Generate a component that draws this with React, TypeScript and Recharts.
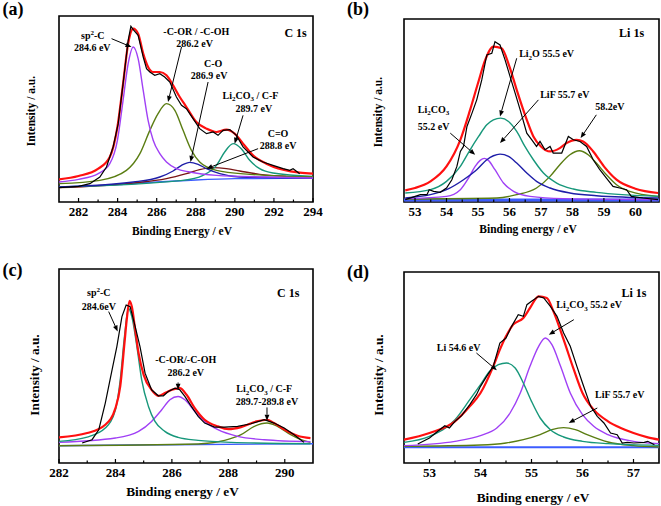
import React from "react";
import {
  LineChart,
  Line,
  XAxis,
  YAxis,
  ReferenceArea,
  ReferenceDot,
  ReferenceLine,
} from "recharts";

const FONT = '"Liberation Serif", "Times New Roman", serif';

type Pt = [number, number]; // [binding energy eV, intensity a.u.]

// ---- (a) C 1s ----
const aRaw: Pt[] = [[281.0,43],[282,47],[282.58,55],[283.09,75],[283.43,105],[283.77,165],[284.03,235],[284.28,355],[284.54,485],[284.68,527],[284.8,517],[285.05,500],[285.31,435],[285.48,400],[285.65,390],[285.9,380],[286.16,385],[286.41,375],[286.67,360],[287.01,315],[287.27,290],[287.52,280],[287.86,250],[288.2,220],[288.55,205],[288.89,210],[289.14,200],[289.4,215],[289.74,217],[290.08,200],[290.42,165],[290.93,135],[291.44,120],[291.95,110],[292.47,100],[292.81,95],[292.98,100],[293.32,85]];
const aEnvelope: Pt[] = [[281.0,68],[282,78],[283.01,100],[283.6,135],[283.99,225],[284.28,355],[284.54,475],[284.8,520],[285.05,505],[285.31,445],[285.56,405],[285.82,390],[286.16,390],[286.5,380],[286.84,350],[287.18,315],[287.52,285],[288.03,240],[288.55,220],[289.06,210],[289.57,217],[289.99,205],[290.42,175],[290.93,140],[291.61,115],[292.47,97],[293.32,88],[294,85]];
const aSp2: Pt[] = [[281.0,60],[282,68],[283.01,85],[283.6,115],[283.99,185],[284.28,305],[284.54,415],[284.8,465],[285.05,430],[285.31,335],[285.56,245],[285.82,185],[286.16,145],[286.5,120],[287.01,100],[287.69,90],[289.06,80],[291.61,75],[294,72]];
const aCOR: Pt[] = [[281.0,55],[283.09,65],[284.45,95],[285.14,145],[285.65,215],[286.07,265],[286.5,295],[286.93,275],[287.35,215],[287.78,155],[288.2,120],[289.06,95],[290.76,83],[294,75]];
const aCO: Pt[] = [[281.0,45],[284.8,60],[286.16,75],[286.84,93],[287.27,110],[287.69,119],[288.12,113],[288.55,100],[289.23,85],[290.25,75],[294,72]];
const aCarbonate: Pt[] = [[281.0,45],[287.35,65],[288.37,80],[289.06,110],[289.48,150],[289.91,175],[290.33,160],[290.76,125],[291.27,100],[291.95,87],[294,77]];
const aCdO: Pt[] = [[281.0,43],[284.8,57],[286.5,70],[287.52,85],[288.2,97],[288.89,103],[289.57,100],[290.25,93],[291.27,83],[292.64,77],[294,75]];
const aBackground: Pt[] = [[281,45],[284,52],[286,60],[288,66],[290,70],[294,72]];
const aTicks = [282, 283, 284, 285, 286, 287, 288, 289, 290, 291, 292, 293, 294];
const aLabels = [282, 284, 286, 288, 290, 292, 294];

// ---- (b) Li 1s ----
const bRaw: Pt[] = [[52.69,7],[53.17,22],[53.38,22],[53.45,37],[53.59,32],[53.8,29],[54.0,42],[54.17,67],[54.33,107],[54.44,152],[54.54,167],[54.65,227],[54.81,267],[54.96,307],[55.12,367],[55.28,442],[55.44,447],[55.54,482],[55.7,472],[55.86,427],[56.02,377],[56.18,327],[56.34,277],[56.55,207],[56.71,187],[56.86,167],[56.97,182],[57.13,157],[57.29,167],[57.39,147],[57.66,147],[57.87,197],[58.03,187],[58.24,182],[58.45,167],[58.66,127],[58.87,97],[59.08,72],[59.29,47],[59.5,42],[59.72,37],[59.87,17],[60.24,12],[60.72,7]];
const bEnvelope: Pt[] = [[52.69,35],[53.0,42],[53.49,62],[54.0,107],[54.44,187],[54.75,277],[55.0,357],[55.23,427],[55.49,467],[55.75,462],[56.0,407],[56.23,337],[56.55,247],[56.76,197],[57.0,167],[57.29,152],[57.6,162],[57.81,177],[58.13,187],[58.34,182],[58.66,152],[59.0,107],[59.4,67],[60.0,40],[60.72,27]];
const bLi2O: Pt[] = [[52.69,27],[53.49,37],[54.0,62],[54.44,107],[54.75,157],[55.02,197],[55.28,232],[55.49,247],[55.72,252],[55.97,242],[56.23,212],[56.49,167],[56.76,127],[57.08,87],[57.5,57],[58.03,39],[58.76,29],[60.72,17]];
const bLiF: Pt[] = [[52.69,12],[53.49,22],[54.0,37],[54.54,67],[54.96,97],[55.28,127],[55.49,139],[55.7,144],[55.97,137],[56.23,117],[56.55,87],[56.86,62],[57.29,42],[57.92,27],[58.76,19],[60.72,12]];
const bCarbonate: Pt[] = [[52.69,10],[54.0,17],[54.44,37],[54.7,72],[54.91,107],[55.07,125],[55.2,131],[55.33,125],[55.54,97],[55.81,57],[56.13,32],[56.65,17],[57.71,10],[60.72,7]];
const bHigh: Pt[] = [[52.69,9],[55.6,12],[56.23,22],[56.86,42],[57.29,77],[57.6,112],[57.92,142],[58.22,154],[58.5,142],[58.76,117],[59.08,82],[59.4,52],[59.82,32],[60.72,17]];
const bBackground: Pt[] = [[52.65,6],[60.75,6]];
const bTicks = [53, 53.5, 54, 54.5, 55, 55.5, 56, 56.5, 57, 57.5, 58, 58.5, 59, 59.5, 60, 60.5];
const bLabels = [53, 54, 55, 56, 57, 58, 59, 60];

// ---- (c) C 1s ----
const cRaw: Pt[] = [[282.82,60],[283.17,70],[283.41,100],[283.64,180],[283.88,280],[284.05,350],[284.23,440],[284.38,475],[284.52,470],[284.7,410],[284.87,350],[285.05,270],[285.28,220],[285.52,202],[285.7,202],[285.87,215],[286.11,225],[286.28,220],[286.46,200],[286.69,170],[286.93,140],[287.16,120],[287.51,108],[287.87,108],[288.33,110],[288.8,118],[289.27,130],[289.62,120],[289.98,105],[290.33,85],[290.68,62]];
const cEnvelope: Pt[] = [[282.0,77],[283.0,90],[283.64,115],[284.0,165],[284.17,230],[284.32,360],[284.4,430],[284.5,487],[284.58,470],[284.7,400],[284.82,330],[285.0,265],[285.28,220],[285.52,202],[285.75,210],[286.0,220],[286.28,225],[286.52,205],[286.81,165],[287.16,130],[287.63,110],[288.01,102],[288.45,108],[289.0,125],[289.37,130],[289.62,120],[290.0,100],[290.45,82],[290.91,75]];
const cSp2: Pt[] = [[282.0,65],[283.0,78],[283.64,105],[284.0,160],[284.17,250],[284.32,380],[284.46,465],[284.58,440],[284.76,350],[284.93,250],[285.17,170],[285.4,125],[285.75,95],[286.22,77],[286.93,68],[288.1,62],[290.91,58]];
const cCOR: Pt[] = [[282.0,62],[284.0,75],[284.82,95],[285.28,125],[285.64,160],[285.93,190],[286.22,200],[286.46,190],[286.81,155],[287.16,125],[287.63,100],[288.33,80],[289.27,70],[290.91,64]];
const cCarbonate: Pt[] = [[282.0,52],[286.93,57],[287.87,68],[288.45,85],[288.92,110],[289.37,120],[289.74,110],[290.21,85],[290.68,67],[290.91,62]];
const cBackground: Pt[] = [[282,52],[286,55],[291,58]];
const cTicks = [282, 283, 284, 285, 286, 287, 288, 289, 290];
const cLabels = [282, 284, 286, 288, 290];

// ---- (d) Li 1s ----
const dRaw: Pt[] = [[52.77,57],[53.0,75],[53.2,100],[53.3,112],[53.39,105],[53.5,125],[53.63,142],[53.79,175],[53.92,205],[54.0,230],[54.12,260],[54.25,290],[54.38,360],[54.5,375],[54.61,410],[54.74,445],[54.84,440],[54.91,475],[55.0,485],[55.14,500],[55.24,495],[55.37,470],[55.5,440],[55.63,390],[55.76,350],[55.89,290],[56.0,240],[56.16,170],[56.29,140],[56.42,120],[56.55,90],[56.68,85],[56.78,60],[56.88,62],[57.01,60],[57.21,62],[57.28,65],[57.41,55]];
const dEnvelope: Pt[] = [[52.5,70],[53.0,90],[53.5,125],[53.79,170],[54.0,210],[54.25,290],[54.38,340],[54.5,380],[54.64,415],[54.84,435],[54.97,465],[55.14,500],[55.3,495],[55.43,455],[55.63,370],[55.83,280],[56.0,210],[56.22,160],[56.5,125],[56.75,105],[57.0,90],[57.28,77],[57.5,70]];
const dLi: Pt[] = [[52.5,62],[53.0,80],[53.5,130],[53.79,190],[54.0,235],[54.18,275],[54.35,295],[54.51,300],[54.68,285],[54.84,240],[55.0,185],[55.17,135],[55.37,100],[55.63,78],[56.0,65],[56.5,58],[57.5,53]];
const dCarbonate: Pt[] = [[52.5,52],[53.5,65],[54.0,82],[54.32,105],[54.58,150],[54.78,210],[54.97,290],[55.14,350],[55.27,375],[55.4,355],[55.57,290],[55.76,210],[56.0,145],[56.22,110],[56.5,85],[57.0,65],[57.5,58]];
const dLiF: Pt[] = [[52.5,50],[54.0,54],[54.5,60],[54.84,70],[55.17,85],[55.4,100],[55.63,106],[55.86,100],[56.09,85],[56.5,63],[57.0,52],[57.5,48]];
const dBackground: Pt[] = [[52.5,47],[57.5,47]];
const dTicks = [53, 53.5, 54, 54.5, 55, 55.5, 56, 56.5, 57];
const dLabels = [53, 54, 55, 56, 57];

const RED = "#ff1010";
const PURPLE = "#a040f5";
const OLIVE = "#5a7d12";
const TEAL = "#17977a";
const NAVY = "#1e1ea8";
const BASE = "#3c5cff";
const BROWN = "#7a1515";

type Curve = { pts: Pt[]; color: string; width?: number; raw?: boolean };
type Note = { e: number; i: number; text: React.ReactNode; size?: number };
type Arrow = [Pt, Pt];

// "Li2CO3" followed by plain text
const li2co3 = (after: string) => (
  <>
    Li<tspan dy={2.5} fontSize={7}>2</tspan>
    <tspan dy={-2.5}>CO</tspan>
    <tspan dy={2.5} fontSize={7}>3</tspan>
    {after && <tspan dy={-2.5}>{after}</tspan>}
  </>
);
const sp2C = (
  <>
    sp<tspan dy={-4} fontSize={7}>2</tspan>
    <tspan dy={4}>-C</tspan>
  </>
);

function makeTick(labels: number[]) {
  return (p: any) => {
    const v = p.payload.value;
    const major = labels.includes(v);
    return (
      <g>
        <line x1={p.x} x2={p.x} y1={p.y} y2={p.y - (major ? 4 : 2.5)} stroke="#000" strokeWidth={1.2} />
        {major && (
          <text x={p.x} y={p.y + 13.5} textAnchor="middle" fontSize={13} fontWeight="bold" fontFamily={FONT} fill="#000">
            {v}
          </text>
        )}
      </g>
    );
  };
}

const noteShape = (text: React.ReactNode, size = 10) => (p: any) => (
  <text x={p.cx} y={p.cy + size * 0.35} textAnchor="middle" fontSize={size} fontWeight="bold" fontFamily={FONT} fill="#000">
    {text}
  </text>
);

const arrowShape = (p: any) => {
  const { x1, y1, x2, y2 } = p;
  const ang = Math.atan2(y2 - y1, x2 - x1);
  const L = 6;
  const W = 2.4;
  const bx = x2 - L * Math.cos(ang);
  const by = y2 - L * Math.sin(ang);
  const pts = `${x2},${y2} ${bx - W * Math.sin(ang)},${by + W * Math.cos(ang)} ${bx + W * Math.sin(ang)},${by - W * Math.cos(ang)}`;
  return (
    <g>
      <line x1={x1} y1={y1} x2={bx} y2={by} stroke="#000" strokeWidth={1} />
      <polygon points={pts} fill="#000" />
    </g>
  );
};

type PanelProps = {
  left: number;
  top: number;
  w: number;
  h: number;
  margin: { top: number; right: number; left: number; bottom: number };
  xDomain: [number, number];
  yMax: number;
  ticks: number[];
  labels: number[];
  curves: Curve[];
  notes: Note[];
  arrows: Arrow[];
  tag: string;
  tagPos: [number, number];
  xTitle: string;
  xTitlePos: [number, number];
  yTitlePos: [number, number];
  titleSize: number;
};

function Panel(props: PanelProps) {
  const { left, top, w, h, margin, xDomain, yMax, ticks, labels, curves, notes, arrows } = props;
  const text = (x: number, y: number, s: string, size: number, rotate = false) => (
    <div
      style={{
        position: "absolute",
        left: x,
        top: y,
        transform: `translate(-50%, -50%)${rotate ? " rotate(-90deg)" : ""}`,
        whiteSpace: "nowrap",
        fontFamily: FONT,
        fontWeight: "bold",
        fontSize: size,
        lineHeight: 1,
      }}
    >
      {s}
    </div>
  );
  return (
    <div style={{ position: "absolute", left, top, width: w, height: h }}>
      <LineChart width={w} height={h} margin={margin}>
        <XAxis
          type="number"
          dataKey="e"
          domain={xDomain}
          allowDataOverflow
          ticks={ticks}
          interval={0}
          tick={makeTick(labels)}
          tickLine={false}
          axisLine={false}
          tickSize={0}
          tickMargin={0}
          height={30}
        />
        <YAxis type="number" dataKey="i" domain={[0, yMax]} hide allowDataOverflow />
        {curves.map((c, k) => (
          <Line
            key={k}
            data={c.pts.map(([e, i]) => ({ e, i }))}
            dataKey="i"
            type={c.raw ? "linear" : "monotone"}
            stroke={c.color}
            strokeWidth={c.width ?? 1.4}
            dot={false}
            activeDot={false}
            isAnimationActive={false}
          />
        ))}
        <ReferenceArea
          x1={xDomain[0]}
          x2={xDomain[1]}
          y1={0}
          y2={yMax}
          fill="#fff"
          fillOpacity={0}
          stroke="#000"
          strokeOpacity={1}
          strokeWidth={1.6}
          ifOverflow="visible"
        />
        {arrows.map((a, k) => (
          <ReferenceLine
            key={"a" + k}
            segment={[{ x: a[0][0], y: a[0][1] }, { x: a[1][0], y: a[1][1] }]}
            shape={arrowShape}
            ifOverflow="visible"
          />
        ))}
        {notes.map((n, k) => (
          <ReferenceDot key={"n" + k} x={n.e} y={n.i} r={0} shape={noteShape(n.text, n.size)} ifOverflow="visible" />
        ))}
      </LineChart>
      {text(props.tagPos[0], props.tagPos[1], props.tag, 18)}
      {text(props.xTitlePos[0], props.xTitlePos[1], props.xTitle, props.titleSize)}
      {text(props.yTitlePos[0], props.yTitlePos[1], "Intensity / a.u.", props.titleSize, true)}
    </div>
  );
}

export default function App() {
  return (
    <div style={{ position: "absolute", left: 0, top: 0, width: 661, height: 506, background: "#fff", overflow: "hidden" }}>
      <Panel
        left={0}
        top={0}
        w={330}
        h={253}
        margin={{ top: 16, right: 17, left: 59, bottom: 21 }}
        xDomain={[281, 294]}
        yMax={558}
        ticks={aTicks}
        labels={aLabels}
        curves={[
          { pts: aBackground, color: BASE },
          { pts: aCdO, color: BROWN },
          { pts: aCarbonate, color: TEAL },
          { pts: aCO, color: NAVY },
          { pts: aCOR, color: OLIVE },
          { pts: aSp2, color: PURPLE },
          { pts: aEnvelope, color: RED, width: 2.2 },
          { pts: aRaw, color: "#000", width: 1.2, raw: true },
        ]}
        notes={[
          { e: 282.73, i: 500, text: sp2C },
          { e: 282.7, i: 465, text: "284.6 eV" },
          { e: 288.03, i: 513, text: "-C-OR / -C-OH" },
          { e: 287.94, i: 477, text: "286.2 eV" },
          { e: 288.89, i: 415, text: "C-O" },
          { e: 288.68, i: 380, text: "286.9 eV" },
          { e: 290.8, i: 320, text: li2co3(" / C-F") },
          { e: 290.97, i: 280, text: "289.7 eV" },
          { e: 292.21, i: 207, text: "C=O" },
          { e: 292.21, i: 170, text: "288.8 eV" },
          { e: 293.11, i: 508, text: "C 1s", size: 12 },
        ]}
        arrows={[
          [[283.69, 490], [284.71, 465]],
          [[287.27, 465], [286.58, 300]],
          [[288.63, 360], [287.73, 120]],
          [[290.42, 260], [289.99, 175]],
          [[291.19, 160], [288.55, 100]],
        ]}
        tag="(a)"
        tagPos={[13, 9]}
        xTitle="Binding Energy / eV"
        xTitlePos={[182, 232]}
        yTitlePos={[32, 111]}
        titleSize={11.5}
      />
      <Panel
        left={330}
        top={0}
        w={331}
        h={253}
        margin={{ top: 19, right: 2, left: 74, bottom: 21 }}
        xDomain={[52.65, 60.75]}
        yMax={550}
        ticks={bTicks}
        labels={bLabels}
        curves={[
          { pts: bBackground, color: BASE, width: 3 },
          { pts: bHigh, color: OLIVE },
          { pts: bCarbonate, color: PURPLE },
          { pts: bLiF, color: NAVY },
          { pts: bLi2O, color: TEAL },
          { pts: bEnvelope, color: RED, width: 2.2 },
          { pts: bRaw, color: "#000", width: 1.2, raw: true },
        ]}
        notes={[
          { e: 59.88, i: 510, text: "Li 1s", size: 12 },
          { e: 57.18, i: 445, text: <>Li<tspan dy={2.5} fontSize={7}>2</tspan><tspan dy={-2.5}>O 55.5 eV</tspan></> },
          { e: 57.76, i: 322, text: "LiF 55.7 eV" },
          { e: 53.59, i: 279, text: li2co3("") },
          { e: 53.59, i: 227, text: "55.2 eV" },
          { e: 59.19, i: 287, text: "58.2eV" },
        ]}
        arrows={[
          [[56.23, 432], [55.7, 257]],
          [[56.92, 307], [55.7, 177]],
          [[54.12, 207], [54.91, 142]],
          [[58.76, 262], [58.26, 192]],
        ]}
        tag="(b)"
        tagPos={[28, 9]}
        xTitle="Binding energy / eV"
        xTitlePos={[198, 230]}
        yTitlePos={[49, 112]}
        titleSize={11.5}
      />
      <Panel
        left={0}
        top={253}
        w={330}
        h={253}
        margin={{ top: 16, right: 17, left: 59, bottom: 13 }}
        xDomain={[282, 291]}
        yMax={583}
        ticks={cTicks}
        labels={cLabels}
        curves={[
          { pts: cBackground, color: BASE },
          { pts: cCarbonate, color: OLIVE },
          { pts: cCOR, color: PURPLE },
          { pts: cSp2, color: TEAL },
          { pts: cEnvelope, color: RED, width: 2.2 },
          { pts: cRaw, color: "#000", width: 1.2, raw: true },
        ]}
        notes={[
          { e: 290.12, i: 512, text: "C 1s", size: 12 },
          { e: 283.41, i: 512, text: sp2C },
          { e: 283.41, i: 470, text: "284.6eV" },
          { e: 286.49, i: 310, text: "-C-OR/-C-OH" },
          { e: 286.49, i: 273, text: "286.2 eV" },
          { e: 289.27, i: 223, text: li2co3(" / C-F") },
          { e: 289.37, i: 185, text: "289.7-289.8 eV" },
        ]}
        arrows={[
          [[283.76, 455], [284.08, 395]],
          [[286.22, 242], [286.22, 220]],
          [[289.37, 167], [289.37, 127]],
        ]}
        tag="(c)"
        tagPos={[12.5, 16.5]}
        xTitle="Binding energy / eV"
        xTitlePos={[182.5, 239]}
        yTitlePos={[35, 122]}
        titleSize={13.3}
      />
      <Panel
        left={330}
        top={253}
        w={331}
        h={253}
        margin={{ top: 19, right: 2, left: 74, bottom: 13 }}
        xDomain={[52.5, 57.5]}
        yMax={573}
        ticks={dTicks}
        labels={dLabels}
        curves={[
          { pts: dBackground, color: BASE, width: 2 },
          { pts: dLiF, color: OLIVE },
          { pts: dCarbonate, color: PURPLE },
          { pts: dLi, color: TEAL },
          { pts: dEnvelope, color: RED, width: 2.2 },
          { pts: dRaw, color: "#000", width: 1.2, raw: true },
        ]}
        notes={[
          { e: 57.01, i: 510, text: "Li 1s", size: 12 },
          { e: 56.13, i: 475, text: li2co3(" 55.2 eV") },
          { e: 53.57, i: 347, text: "Li 54.6 eV" },
          { e: 56.73, i: 205, text: "LiF 55.7 eV" },
        ]}
        arrows={[
          [[55.83, 430], [55.34, 385]],
          [[53.92, 330], [54.32, 278]],
          [[56.29, 165], [55.73, 120]],
        ]}
        tag="(d)"
        tagPos={[28, 18.5]}
        xTitle="Binding energy / eV"
        xTitlePos={[203, 245]}
        yTitlePos={[49, 122]}
        titleSize={13.3}
      />
    </div>
  );
}
